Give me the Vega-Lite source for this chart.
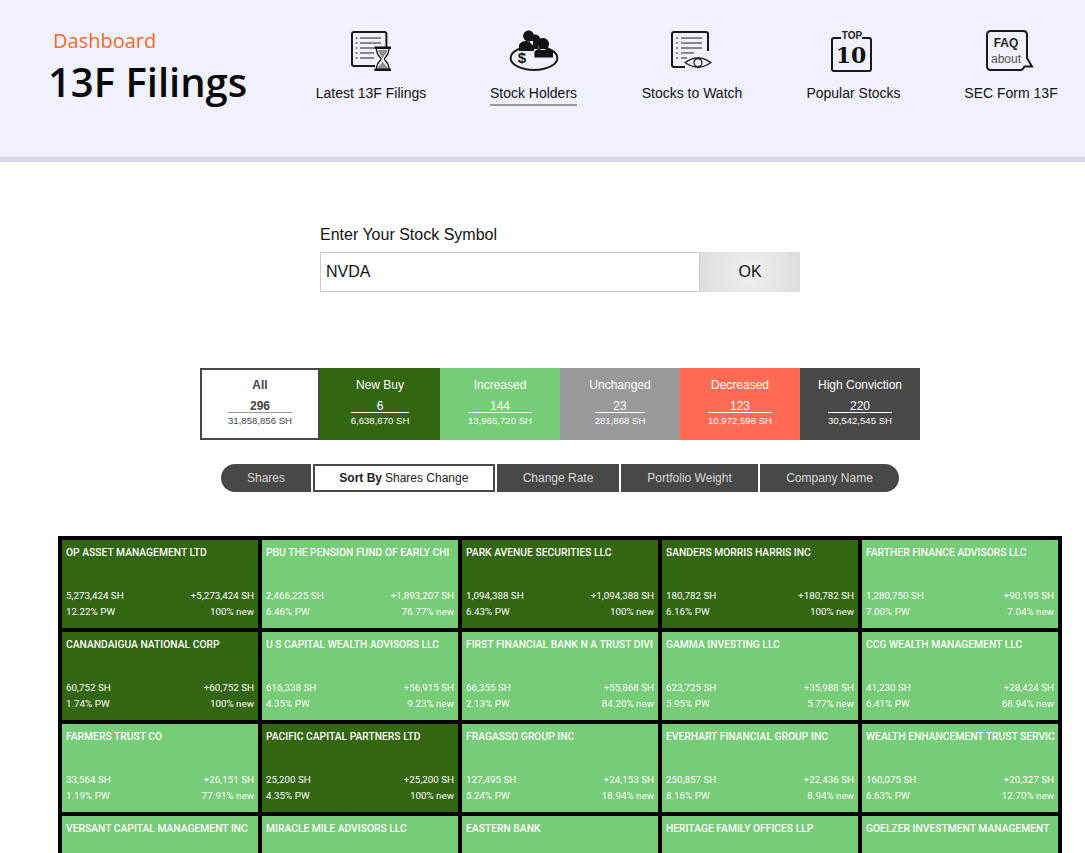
{
  "$schema": "https://vega.github.io/schema/vega-lite/v6.json",
  "background": "white",
  "padding": 0,
  "spacing": 0,
  "config": {
    "view": {"stroke": null},
    "concat": {"spacing": 0},
    "axis": {"disable": true},
    "legend": {"disable": true},
    "text": {"font": "Liberation Sans", "baseline": "middle"}
  },
  "datasets": {
    "icons": [
      {"nav": "Latest 13F Filings", "glyph": "filing-line", "kind": "line"},
      {"nav": "Latest 13F Filings", "glyph": "filing-list", "kind": "thin"},
      {"nav": "Latest 13F Filings", "glyph": "hourglass-sand", "kind": "gray"},
      {"nav": "Latest 13F Filings", "glyph": "hourglass-caps", "kind": "solid"},
      {"nav": "Stock Holders", "glyph": "plate", "kind": "line"},
      {"nav": "Stock Holders", "glyph": "people", "kind": "solid"},
      {"nav": "Stocks to Watch", "glyph": "watch-line", "kind": "line"},
      {"nav": "Stocks to Watch", "glyph": "watch-list", "kind": "thin"},
      {"nav": "Stocks to Watch", "glyph": "eye", "kind": "thin"},
      {"nav": "Popular Stocks", "glyph": "bracket", "kind": "line"},
      {"nav": "SEC Form 13F", "glyph": "bubble", "kind": "line"}
    ],
    "filters": [
      {"group": "All", "count": "296", "shares": "31,858,856 SH"},
      {"group": "New Buy", "count": "6", "shares": "6,638,670 SH"},
      {"group": "Increased", "count": "144", "shares": "13,965,720 SH"},
      {"group": "Unchanged", "count": "23", "shares": "281,868 SH"},
      {"group": "Decreased", "count": "123", "shares": "10,972,598 SH"},
      {"group": "High Conviction", "count": "220", "shares": "30,542,545 SH"}
    ],
    "holders": [
      {"row": 1, "col": 1, "status": "New Buy", "company": "OP ASSET MANAGEMENT LTD", "shares": "5,273,424 SH", "change": "+5,273,424 SH", "weight": "12.22% PW", "rate": "100% new"},
      {"row": 1, "col": 2, "status": "Increased", "company": "PBU THE PENSION FUND OF EARLY CHI", "shares": "2,466,225 SH", "change": "+1,893,207 SH", "weight": "6.46% PW", "rate": "76.77% new"},
      {"row": 1, "col": 3, "status": "New Buy", "company": "PARK AVENUE SECURITIES LLC", "shares": "1,094,388 SH", "change": "+1,094,388 SH", "weight": "6.43% PW", "rate": "100% new"},
      {"row": 1, "col": 4, "status": "New Buy", "company": "SANDERS MORRIS HARRIS INC", "shares": "180,782 SH", "change": "+180,782 SH", "weight": "6.16% PW", "rate": "100% new"},
      {"row": 1, "col": 5, "status": "Increased", "company": "FARTHER FINANCE ADVISORS LLC", "shares": "1,280,750 SH", "change": "+90,195 SH", "weight": "7.00% PW", "rate": "7.04% new"},
      {"row": 2, "col": 1, "status": "New Buy", "company": "CANANDAIGUA NATIONAL CORP", "shares": "60,752 SH", "change": "+60,752 SH", "weight": "1.74% PW", "rate": "100% new"},
      {"row": 2, "col": 2, "status": "Increased", "company": "U S CAPITAL WEALTH ADVISORS LLC", "shares": "616,338 SH", "change": "+56,915 SH", "weight": "4.35% PW", "rate": "9.23% new"},
      {"row": 2, "col": 3, "status": "Increased", "company": "FIRST FINANCIAL BANK N A TRUST DIVI", "shares": "66,355 SH", "change": "+55,868 SH", "weight": "2.13% PW", "rate": "84.20% new"},
      {"row": 2, "col": 4, "status": "Increased", "company": "GAMMA INVESTING LLC", "shares": "623,725 SH", "change": "+35,988 SH", "weight": "5.95% PW", "rate": "5.77% new"},
      {"row": 2, "col": 5, "status": "Increased", "company": "CCG WEALTH MANAGEMENT LLC", "shares": "41,230 SH", "change": "+28,424 SH", "weight": "6.41% PW", "rate": "68.94% new"},
      {"row": 3, "col": 1, "status": "Increased", "company": "FARMERS TRUST CO", "shares": "33,564 SH", "change": "+26,151 SH", "weight": "1.19% PW", "rate": "77.91% new"},
      {"row": 3, "col": 2, "status": "New Buy", "company": "PACIFIC CAPITAL PARTNERS LTD", "shares": "25,200 SH", "change": "+25,200 SH", "weight": "4.35% PW", "rate": "100% new"},
      {"row": 3, "col": 3, "status": "Increased", "company": "FRAGASSO GROUP INC", "shares": "127,495 SH", "change": "+24,153 SH", "weight": "5.24% PW", "rate": "18.94% new"},
      {"row": 3, "col": 4, "status": "Increased", "company": "EVERHART FINANCIAL GROUP INC", "shares": "250,857 SH", "change": "+22,436 SH", "weight": "8.16% PW", "rate": "8.94% new"},
      {"row": 3, "col": 5, "status": "Increased", "company": "WEALTH ENHANCEMENT TRUST SERVIC", "shares": "160,075 SH", "change": "+20,327 SH", "weight": "6.63% PW", "rate": "12.70% new"},
      {"row": 4, "col": 1, "status": "Increased", "company": "VERSANT CAPITAL MANAGEMENT INC"},
      {"row": 4, "col": 2, "status": "Increased", "company": "MIRACLE MILE ADVISORS LLC"},
      {"row": 4, "col": 3, "status": "Increased", "company": "EASTERN BANK"},
      {"row": 4, "col": 4, "status": "Increased", "company": "HERITAGE FAMILY OFFICES LLP"},
      {"row": 4, "col": 5, "status": "Increased", "company": "GOELZER INVESTMENT MANAGEMENT"}
    ]
  },
  "vconcat": [
    {
      "hconcat": [
        {
          "width": 300,
          "height": 157,
          "view": {"fill": "#f1f1fd"},
          "data": {"values": [{"part": "Dashboard"}, {"part": "13F Filings"}]},
          "encoding": {
            "x": {"field": "part", "type": "nominal", "scale": {"type": "point", "domain": ["13F Filings", "Dashboard"], "range": [48, 53], "padding": 0}},
            "y": {"field": "part", "type": "nominal", "scale": {"type": "point", "domain": ["Dashboard", "13F Filings"], "range": [42, 85], "padding": 0}},
            "text": {"field": "part"}
          },
          "layer": [
            {"transform": [{"filter": "datum.part === 'Dashboard'"}], "mark": {"type": "text", "align": "left", "font": "Open Sans", "fontSize": 20, "color": "#f26a2e"}},
            {"transform": [{"filter": "datum.part === '13F Filings'"}], "mark": {"type": "text", "align": "left", "font": "Open Sans", "fontSize": 40, "fontWeight": 600, "color": "#0a0a0a"}}
          ]
        },
        {
          "width": 785,
          "height": 157,
          "view": {"fill": "#f1f1fd"},
          "encoding": {
            "x": {"field": "nav", "type": "nominal", "sort": null, "scale": {"type": "point", "domain": ["Latest 13F Filings", "Stock Holders", "Stocks to Watch", "Popular Stocks", "SEC Form 13F"], "range": [72, 712], "padding": 0}},
            "shape": {"field": "glyph", "type": "nominal", "scale": {
              "domain": ["filing-line", "filing-list", "hourglass-sand", "hourglass-caps", "plate", "people", "watch-line", "watch-list", "eye", "bracket", "bubble", "underline"],
              "range": [
                "M.72,-.1V-.85Q.72,-.95,.62,-.95H-.9Q-1,-.95,-1,-.85V.65Q-1,.75,-.9,.75H.15",
                "M-.6,-.65H.45M-.6,-.4H.45M-.6,-.15H.1M-.6,.1H.1M-.6,.35H.1M-.82,-.65H-.72M-.82,-.4H-.72M-.82,-.15H-.72M-.82,.1H-.72M-.82,.35H-.72M.22,-.1C.22,.25,.45,.3,.45,.4C.45,.5,.22,.55,.22,.9M.85,-.1C.85,.25,.62,.3,.62,.4C.62,.5,.85,.55,.85,.9",
                "M.3,-.05H.77C.7,.2,.55,.25,.53,.4C.5,.25,.37,.2,.3,-.05ZM.53,.5C.55,.65,.75,.7,.8,.9H.27C.32,.7,.5,.65,.53,.5Z",
                "M.12,-.22H.95V-.1H.12ZM.12,.88H.95V1H.12Z",
                "M-1.07,.35A1.17,.6,0,1,0,1.27,.35A1.17,.6,0,1,0,-1.07,.35Z",
                "M-.44,-.75A.27,.27,0,1,0,.1,-.75A.27,.27,0,1,0,-.44,-.75ZM-.12,-.55A.27,.27,0,1,0,.42,-.55A.27,.27,0,1,0,-.12,-.55ZM.25,-.35A.3,.3,0,1,0,.85,-.35A.3,.3,0,1,0,.25,-.35ZM-.65,0V-.3Q-.55,-.5,-.3,-.5H.05V-.3H.35V-.1H.1V0ZM.12,.32V.05Q.2,-.1,.4,-.1H.75Q1,-.1,1.05,.05V.32Z",
                "M.8,0V-.85Q.8,-.95,.7,-.95H-.9Q-1,-.95,-1,-.85V.7Q-1,.8,-.9,.8H-.35",
                "M-.55,-.65H.5M-.55,-.4H.5M-.55,-.15H.5M-.55,.1H.1M-.55,.35H-.25M-.8,-.65H-.7M-.8,-.4H-.7M-.8,-.15H-.7M-.8,.1H-.7M-.8,.35H-.7",
                "M-.35,.58Q.3,.1,.95,.58Q.3,1.05,-.35,.58ZM.1,.58A.2,.2,0,1,0,.5,.58A.2,.2,0,1,0,.1,.58Z",
                "M-.55,-.65H-.9Q-1,-.65,-1,-.55V.9Q-1,1,-.9,1H.85Q.95,1,.95,.9V-.55Q.95,-.65,.85,-.65H.5",
                "M-1.05,-1H.55Q.75,-1,.75,-.8V.35L1,.78H.62Q.55,.93,.45,.95H-1.05Q-1.25,.95,-1.25,.75V-.8Q-1.25,-1,-1.05,-1Z",
                "M-2.1,-.05H2.25V.05H-2.1Z"
              ]
            }}
          },
          "layer": [
            {
              "data": {"name": "icons"},
              "transform": [{"filter": "datum.kind === 'line'"}],
              "mark": {"type": "point", "filled": false, "size": 1600, "strokeWidth": 2, "color": "#1a1a1a", "opacity": 1},
              "encoding": {"y": {"datum": "icon", "type": "nominal", "scale": {"type": "point", "domain": ["icon", "label", "underline"], "range": [51, 105], "padding": 0}}}
            },
            {
              "data": {"name": "icons"},
              "transform": [{"filter": "datum.kind === 'thin'"}],
              "mark": {"type": "point", "filled": false, "size": 1600, "strokeWidth": 1.2, "color": "#1a1a1a", "opacity": 1},
              "encoding": {"y": {"datum": "icon", "type": "nominal"}}
            },
            {
              "data": {"name": "icons"},
              "transform": [{"filter": "datum.kind === 'gray'"}],
              "mark": {"type": "point", "filled": true, "size": 1600, "color": "#8f8f8f", "opacity": 1},
              "encoding": {"y": {"datum": "icon", "type": "nominal"}}
            },
            {
              "data": {"name": "icons"},
              "transform": [{"filter": "datum.kind === 'solid'"}],
              "mark": {"type": "point", "filled": true, "size": 1600, "color": "#111111", "opacity": 1},
              "encoding": {"y": {"datum": "icon", "type": "nominal"}}
            },
            {
              "data": {"values": [{"nav": "Stock Holders", "glyph": "underline"}]},
              "mark": {"type": "point", "filled": true, "size": 1600, "color": "#9a9a9a", "opacity": 1},
              "encoding": {"y": {"datum": "underline", "type": "nominal"}}
            },
            {
              "data": {"values": [{"nav": "Stock Holders", "label": "$"}]},
              "mark": {"type": "text", "fontSize": 15, "fontWeight": "bold", "color": "#111111", "dx": -10, "dy": 7},
              "encoding": {"y": {"datum": "icon", "type": "nominal"}, "text": {"field": "label"}}
            },
            {
              "data": {"values": [{"nav": "Popular Stocks", "label": "TOP"}]},
              "mark": {"type": "text", "fontSize": 10, "fontWeight": "bold", "color": "#222222", "dy": -15},
              "encoding": {"y": {"datum": "icon", "type": "nominal"}, "text": {"field": "label"}}
            },
            {
              "data": {"values": [{"nav": "Popular Stocks", "label": "10"}]},
              "mark": {"type": "text", "font": "DejaVu Serif", "fontSize": 22, "fontWeight": "bold", "color": "#111111", "dx": -1, "dy": 5},
              "encoding": {"y": {"datum": "icon", "type": "nominal"}, "text": {"field": "label"}}
            },
            {
              "data": {"values": [{"nav": "SEC Form 13F", "label": "FAQ"}]},
              "mark": {"type": "text", "fontSize": 12, "fontWeight": "bold", "color": "#222222", "dx": -6, "dy": -8},
              "encoding": {"y": {"datum": "icon", "type": "nominal"}, "text": {"field": "label"}}
            },
            {
              "data": {"values": [{"nav": "SEC Form 13F", "label": "about"}]},
              "mark": {"type": "text", "fontSize": 12, "color": "#555555", "dx": -6, "dy": 8},
              "encoding": {"y": {"datum": "icon", "type": "nominal"}, "text": {"field": "label"}}
            },
            {
              "data": {"values": [{"nav": "Latest 13F Filings"}, {"nav": "SEC Form 13F"}]},
              "mark": {"type": "text", "fontSize": 14, "color": "#111111", "dx": -1, "dy": 16},
              "encoding": {"y": {"datum": "label", "type": "nominal"}, "text": {"field": "nav"}}
            },
            {
              "data": {"values": [{"nav": "Stocks to Watch"}]},
              "mark": {"type": "text", "fontSize": 14, "color": "#111111", "dy": 16},
              "encoding": {"y": {"datum": "label", "type": "nominal"}, "text": {"field": "nav"}}
            },
            {
              "data": {"values": [{"nav": "Stock Holders"}, {"nav": "Popular Stocks"}]},
              "mark": {"type": "text", "fontSize": 14, "color": "#111111", "dx": 1.5, "dy": 16},
              "encoding": {"y": {"datum": "label", "type": "nominal"}, "text": {"field": "nav"}}
            }
          ]
        }
      ]
    },
    {
      "width": 1085,
      "height": 5,
      "data": {"values": [{"part": "header rule"}]},
      "mark": {"type": "rect", "color": "#d6d6de"}
    },
    {
      "width": 1085,
      "height": 90,
      "data": {"values": [{"label": "Enter Your Stock Symbol"}]},
      "mark": {"type": "text", "align": "left", "fontSize": 16, "color": "#111111", "dy": 28},
      "encoding": {
        "x": {"field": "label", "type": "nominal", "bandPosition": 0, "scale": {"type": "band", "range": [320, 700], "padding": 0}},
        "text": {"field": "label"}
      }
    },
    {
      "hconcat": [
        {"width": 320, "height": 40, "data": {"values": []}, "mark": "rect"},
        {
          "width": 380,
          "height": 40,
          "data": {"values": [{"symbol": "NVDA"}]},
          "layer": [
            {"mark": {"type": "rect", "fill": "white", "stroke": "#cccccc", "strokeWidth": 2, "clip": true}},
            {
              "mark": {"type": "text", "align": "left", "fontSize": 16, "color": "#111111", "dx": 6},
              "encoding": {
                "x": {"field": "symbol", "type": "nominal", "bandPosition": 0, "scale": {"type": "band", "padding": 0}},
                "text": {"field": "symbol"}
              }
            }
          ]
        },
        {
          "width": 100,
          "height": 40,
          "data": {"values": [{"label": "OK"}]},
          "layer": [
            {"mark": {"type": "rect", "fill": {"gradient": "radial", "x1": 0.5, "y1": 0.5, "r1": 0, "x2": 0.5, "y2": 0.5, "r2": 0.6, "stops": [{"offset": 0, "color": "#f1f1f1"}, {"offset": 1, "color": "#dadada"}]}}},
            {"mark": {"type": "text", "fontSize": 16, "color": "#111111"}, "encoding": {"text": {"field": "label"}}}
          ]
        }
      ]
    },
    {"width": 1085, "height": 76, "data": {"values": []}, "mark": "rect"},
    {
      "hconcat": [
        {"width": 200, "height": 72, "data": {"values": []}, "mark": "rect"},
        {
          "width": 720,
          "height": 72,
          "data": {"name": "filters"},
          "encoding": {
            "x": {"field": "group", "type": "nominal", "sort": null, "scale": {"type": "band", "domain": ["All", "New Buy", "Increased", "Unchanged", "Decreased", "High Conviction"], "padding": 0}}
          },
          "layer": [
            {
              "transform": [{"filter": "datum.group === 'All'"}],
              "mark": {"type": "rect", "fill": "white", "stroke": "#484848", "strokeWidth": 4, "clip": true}
            },
            {
              "transform": [{"filter": "datum.group !== 'All'"}],
              "mark": {"type": "rect"},
              "encoding": {"fill": {"field": "group", "type": "nominal", "scale": {"domain": ["New Buy", "Increased", "Unchanged", "Decreased", "High Conviction"], "range": ["#336611", "#77cc77", "#999999", "#ff6b55", "#484848"]}}}
            },
            {
              "transform": [{"filter": "datum.group === 'All'"}],
              "mark": {"type": "text", "fontSize": 12, "fontWeight": "bold", "color": "#444444", "dy": -19},
              "encoding": {"text": {"field": "group"}}
            },
            {
              "transform": [{"filter": "datum.group === 'All'"}],
              "mark": {"type": "text", "fontSize": 12, "fontWeight": "bold", "color": "#444444", "dy": 2},
              "encoding": {"text": {"field": "count"}}
            },
            {
              "transform": [{"filter": "datum.group === 'All'"}],
              "mark": {"type": "text", "fontSize": 9.6, "color": "#444444", "dy": 17},
              "encoding": {"text": {"field": "shares"}}
            },
            {
              "transform": [{"filter": "datum.group !== 'All'"}],
              "mark": {"type": "text", "fontSize": 12, "color": "white", "dy": -19},
              "encoding": {"text": {"field": "group"}}
            },
            {
              "transform": [{"filter": "datum.group !== 'All'"}],
              "mark": {"type": "text", "fontSize": 12, "color": "white", "dy": 2},
              "encoding": {"text": {"field": "count"}}
            },
            {
              "transform": [{"filter": "datum.group !== 'All'"}],
              "mark": {"type": "text", "fontSize": 9.6, "color": "white", "dy": 17},
              "encoding": {"text": {"field": "shares"}}
            },
            {
              "mark": {"type": "tick", "orient": "horizontal", "thickness": 1, "opacity": 1},
              "encoding": {
                "y": {"datum": "rule", "type": "nominal", "scale": {"type": "point", "domain": ["rule"], "range": [44.5, 44.5], "padding": 0}},
                "size": {"field": "group", "type": "nominal", "scale": {"type": "ordinal", "domain": ["All", "New Buy", "Increased", "Unchanged", "Decreased", "High Conviction"], "range": [64, 58, 64, 50, 64, 64]}},
                "color": {"condition": {"test": "datum.group === 'All'", "value": "#999999"}, "value": "white"}
              }
            }
          ]
        }
      ]
    },
    {"width": 1085, "height": 24, "data": {"values": []}, "mark": "rect"},
    {
      "spacing": 2,
      "hconcat": [
        {"width": 219, "height": 28, "data": {"values": []}, "mark": "rect"},
        {
          "width": 90,
          "height": 28,
          "data": {"values": [{"label": "Shares"}]},
          "layer": [
            {"mark": {"type": "rect", "color": "#484848", "cornerRadiusTopLeft": 14, "cornerRadiusBottomLeft": 14}},
            {"mark": {"type": "text", "fontSize": 12, "color": "#d8d8d8"}, "encoding": {"text": {"field": "label"}}}
          ]
        },
        {
          "width": 182,
          "height": 28,
          "data": {"values": [{"lead": "Sort By", "label": "Shares Change"}]},
          "layer": [
            {"mark": {"type": "rect", "fill": "white", "stroke": "#484848", "strokeWidth": 4, "clip": true}},
            {"mark": {"type": "text", "align": "right", "fontSize": 12, "fontWeight": "bold", "color": "#222222", "dx": -22}, "encoding": {"text": {"field": "lead"}}},
            {"mark": {"type": "text", "align": "left", "fontSize": 12, "color": "#222222", "dx": -19}, "encoding": {"text": {"field": "label"}}}
          ]
        },
        {
          "width": 122,
          "height": 28,
          "data": {"values": [{"label": "Change Rate"}]},
          "layer": [
            {"mark": {"type": "rect", "color": "#484848"}},
            {"mark": {"type": "text", "fontSize": 12, "color": "#d8d8d8"}, "encoding": {"text": {"field": "label"}}}
          ]
        },
        {
          "width": 137,
          "height": 28,
          "data": {"values": [{"label": "Portfolio Weight"}]},
          "layer": [
            {"mark": {"type": "rect", "color": "#484848"}},
            {"mark": {"type": "text", "fontSize": 12, "color": "#d8d8d8"}, "encoding": {"text": {"field": "label"}}}
          ]
        },
        {
          "width": 139,
          "height": 28,
          "data": {"values": [{"label": "Company Name"}]},
          "layer": [
            {"mark": {"type": "rect", "color": "#484848", "cornerRadiusTopRight": 14, "cornerRadiusBottomRight": 14}},
            {"mark": {"type": "text", "fontSize": 12, "color": "#d8d8d8"}, "encoding": {"text": {"field": "label"}}}
          ]
        }
      ]
    },
    {
      "width": 1085,
      "height": 361,
      "data": {"name": "holders"},
      "encoding": {
        "x": {"field": "col", "type": "ordinal", "scale": {"type": "band", "domain": [1, 2, 3, 4, 5], "range": [60, 1060], "padding": 0}},
        "y": {"field": "row", "type": "ordinal", "scale": {"type": "band", "domain": [1, 2, 3, 4], "range": [46, 414], "padding": 0}}
      },
      "layer": [
        {
          "mark": {"type": "rect", "stroke": "black", "strokeWidth": 4, "clip": true},
          "encoding": {"fill": {"field": "status", "type": "nominal", "scale": {"domain": ["New Buy", "Increased"], "range": ["#336611", "#77cc77"]}}}
        },
        {
          "mark": {"type": "text", "align": "left", "font": "Roboto", "fontSize": 10.3, "fontWeight": 500, "color": "white", "dx": 6, "dy": 15, "limit": 0},
          "encoding": {
            "x": {"field": "col", "type": "ordinal", "bandPosition": 0},
            "y": {"field": "row", "type": "ordinal", "bandPosition": 0},
            "text": {"field": "company"}
          }
        },
        {
          "transform": [{"filter": "datum.shares"}],
          "mark": {"type": "text", "align": "left", "font": "Roboto", "fontSize": 9.8, "color": "white", "dx": 6, "dy": 58},
          "encoding": {
            "x": {"field": "col", "type": "ordinal", "bandPosition": 0},
            "y": {"field": "row", "type": "ordinal", "bandPosition": 0},
            "text": {"field": "shares"}
          }
        },
        {
          "transform": [{"filter": "datum.shares"}],
          "mark": {"type": "text", "align": "left", "font": "Roboto", "fontSize": 9.8, "color": "white", "dx": 6, "dy": 74},
          "encoding": {
            "x": {"field": "col", "type": "ordinal", "bandPosition": 0},
            "y": {"field": "row", "type": "ordinal", "bandPosition": 0},
            "text": {"field": "weight"}
          }
        },
        {
          "transform": [{"filter": "datum.shares"}],
          "mark": {"type": "text", "align": "right", "font": "Roboto", "fontSize": 9.8, "color": "white", "dx": -6, "dy": 58},
          "encoding": {
            "x": {"field": "col", "type": "ordinal", "bandPosition": 1},
            "y": {"field": "row", "type": "ordinal", "bandPosition": 0},
            "text": {"field": "change"}
          }
        },
        {
          "transform": [{"filter": "datum.shares"}],
          "mark": {"type": "text", "align": "right", "font": "Roboto", "fontSize": 9.8, "color": "white", "dx": -6, "dy": 74},
          "encoding": {
            "x": {"field": "col", "type": "ordinal", "bandPosition": 1},
            "y": {"field": "row", "type": "ordinal", "bandPosition": 0},
            "text": {"field": "rate"}
          }
        }
      ]
    }
  ]
}
